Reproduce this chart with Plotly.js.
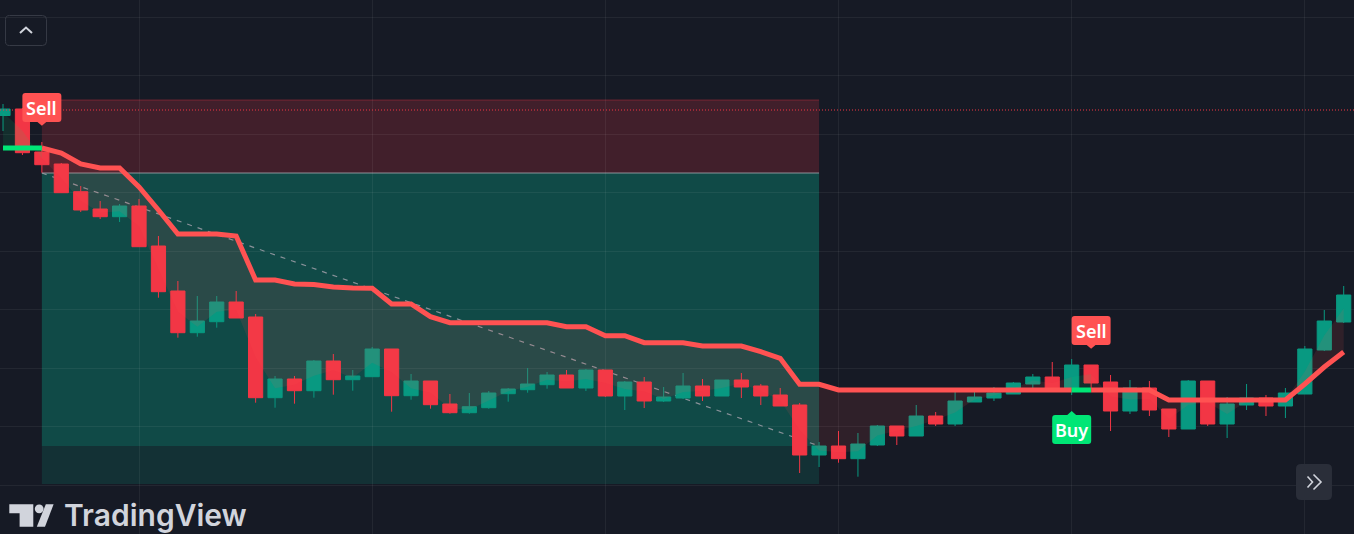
<!DOCTYPE html>
<html><head><meta charset="utf-8">
<script src="https://cdn.plot.ly/plotly-3.0.1.min.js"></script>
<style>html,body{margin:0;padding:0;background:#161a25;overflow:hidden}#chart{width:1354px;height:534px}</style>
</head><body><div id="chart"></div>
<script>
// ---- data (bar index, OHLC) ----
const openP = [48.45,49.1,44.8,43.6,40.83,39.1,38.33,39.4,35.4,30.9,
  26.73,27.83,29.8,28.3,20.23,22.1,20.93,23.9,22.03,22.33,
  25.1,20.43,21.9,19.6,18.73,19.23,20.63,21.03,21.53,22.5,
  21.2,23.0,20.4,21.8,19.9,20.2,21.4,20.4,22.0,21.4,
  20.5,19.5,14.5,15.4,14.13,15.5,17.4,16.4,18.4,17.6,
  19.8,20.2,20.6,21.6,22.3,21.1,23.5,21.8,18.9,21.2,
  19.1,17.1,21.9,17.6,19.5,20.2,19.4,20.6,25.0,27.8];
const highP = [49.6,49.2,45.8,43.7,41.4,39.9,39.6,40.1,36.4,31.9,
  30.4,30.4,30.9,28.6,22.4,22.4,24.0,24.6,23.0,25.3,
  25.1,22.6,21.9,20.6,20.7,20.9,21.2,23.2,22.8,23.0,
  23.1,23.0,21.9,22.3,21.3,22.7,22.1,22.0,22.7,21.6,
  21.2,19.7,15.8,16.9,16.7,17.5,17.4,19.5,18.8,20.9,
  21.0,21.3,21.8,22.6,23.8,24.1,23.5,22.5,22.0,21.9,
  19.1,22.0,21.9,20.3,21.6,20.5,21.2,25.4,29.0,31.4];
const lowP = [46.9,44.5,42.73,40.7,38.8,38.1,37.8,35.3,30.23,26.23,
  26.33,27.23,28.2,19.73,19.23,19.63,20.23,20.53,20.93,22.33,
  18.83,20.03,19.13,18.63,18.63,19.13,19.83,20.73,21.13,21.2,
  20.9,20.3,19.0,19.2,19.8,20.1,19.9,20.4,20.2,19.5,
  19.4,12.7,13.3,13.73,12.33,15.4,15.5,16.4,17.4,17.4,
  19.8,19.9,20.6,21.1,21.1,20.5,21.1,16.9,18.6,18.4,
  16.3,17.1,17.4,16.2,19.0,18.4,18.2,20.6,24.9,27.7];
const closeP = [49.1,44.73,43.53,40.73,39.0,38.33,39.4,35.33,30.83,26.73,
  27.9,29.8,28.2,20.23,22.1,20.93,23.9,22.03,22.4,25.1,
  20.43,21.9,19.53,18.73,19.33,20.7,21.1,21.6,22.5,21.2,
  23.0,20.4,21.8,19.9,20.3,21.4,20.4,22.0,21.3,20.4,
  19.4,14.5,15.4,14.13,15.6,17.4,16.4,18.4,17.6,19.9,
  20.3,20.7,21.7,22.3,21.1,23.5,21.7,18.9,21.2,19.0,
  17.1,21.9,17.6,19.6,20.2,19.4,20.7,25.1,27.9,30.5];
// SuperTrend line value per bar
const trendLine = [45.2,45.2,45.2,44.7,43.6,43.2,43.2,41.3,39.0,36.6,
  36.6,36.6,36.4,32.0,32.0,31.6,31.55,31.3,31.2,31.17,
  29.6,29.6,28.33,27.73,27.73,27.73,27.73,27.73,27.73,27.33,
  27.33,26.43,26.43,25.73,25.73,25.73,25.4,25.4,25.4,24.83,
  24.17,21.57,21.57,21.0,21.0,21.0,21.0,21.0,21.0,21.0,
  21.0,21.0,21.0,21.0,21.0,21.0,21.0,21.0,21.0,21.0,
  20.0,20.0,20.0,20.0,20.0,20.0,20.0,21.6,23.3,24.8];
const upRuns = [[0,2],[55,56]];
const downRuns = [[2,55],[56,69]];
const sellBars = [2,56];
const buyBars = [55];
// short position drawing
const posEntryBar = 2, posExitBar = 42;
const entryPrice = 42.7, stopPrice = 50.0, targetPrice = 11.6, exitPrice = 15.4;
const alertPrice = 49.0;

const barIdx = openP.map((_, i) => i);
const bodyMid = openP.map((o, i) => (o + closeP[i]) / 2);

const W = 1354, H = 534;
const RED = '#f23645', GREEN = '#089981', ST_RED = '#ff5252', ST_GREEN = '#00e676';

const traces = [];
function runFill(run, color) {
  const [a, b] = run;
  const xs = [], ys = [];
  for (let i = a; i <= b; i++) { xs.push(barIdx[i]); ys.push(trendLine[i]); }
  for (let i = b; i >= a; i--) { xs.push(barIdx[i]); ys.push(bodyMid[i]); }
  traces.push({x: xs, y: ys, type: 'scatter', mode: 'lines', fill: 'toself',
    fillcolor: color, line: {width: 0}, hoverinfo: 'skip'});
}
function runLine(run, color) {
  const [a, b] = run;
  traces.push({x: barIdx.slice(a, b + 1), y: trendLine.slice(a, b + 1), type: 'scatter',
    mode: 'lines', line: {color: color, width: 5}, hoverinfo: 'skip'});
}
downRuns.forEach(r => runFill(r, 'rgba(255,82,82,0.11)'));
upRuns.forEach(r => runFill(r, 'rgba(0,230,118,0.10)'));
downRuns.forEach(r => runLine(r, ST_RED));
upRuns.forEach(r => runLine(r, ST_GREEN));

traces.push({type: 'candlestick', x: barIdx, open: openP, high: highP, low: lowP, close: closeP,
  increasing: {line: {color: GREEN, width: 1}, fillcolor: GREEN},
  decreasing: {line: {color: RED, width: 1}, fillcolor: RED},
  whiskerwidth: 0, hoverinfo: 'skip'});

// helpers for paper-pixel decorations
const P = (x, y) => (x / W).toFixed(5) + ',' + (1 - y / H).toFixed(5);
function rrectPaper(x0, y0, x1, y1, r) {
  return `M${P(x0 + r, y0)} L${P(x1 - r, y0)} Q${P(x1, y0)} ${P(x1, y0 + r)} L${P(x1, y1 - r)} Q${P(x1, y1)} ${P(x1 - r, y1)} L${P(x0 + r, y1)} Q${P(x0, y1)} ${P(x0, y1 - r)} L${P(x0, y0 + r)} Q${P(x0, y0)} ${P(x0 + r, y0)} Z`;
}
function rrectPx(x0, y0, x1, y1, r) { // y up
  return `M${x0 + r},${y0} L${x1 - r},${y0} Q${x1},${y0} ${x1},${y0 + r} L${x1},${y1 - r} Q${x1},${y1} ${x1 - r},${y1} L${x0 + r},${y1} Q${x0},${y1} ${x0},${y1 - r} L${x0},${y0 + r} Q${x0},${y0} ${x0 + r},${y0} Z`;
}

const shapes = [
  // stop zone
  {type: 'rect', xref: 'x', yref: 'y', x0: posEntryBar, x1: posExitBar, y0: entryPrice, y1: stopPrice,
    fillcolor: 'rgba(242,54,69,0.2)', line: {width: 0}, layer: 'below'},
  {type: 'line', xref: 'x', yref: 'y', x0: posEntryBar, x1: posExitBar, y0: stopPrice, y1: stopPrice,
    line: {color: 'rgba(242,54,69,0.35)', width: 1}, layer: 'below'},
  // target zone
  {type: 'rect', xref: 'x', yref: 'y', x0: posEntryBar, x1: posExitBar, y0: targetPrice, y1: entryPrice,
    fillcolor: 'rgba(8,153,129,0.18)', line: {width: 0}, layer: 'below'},
  {type: 'rect', xref: 'x', yref: 'y', x0: posEntryBar, x1: posExitBar, y0: exitPrice, y1: entryPrice,
    fillcolor: 'rgba(8,153,129,0.25)', line: {width: 0}, layer: 'below'},
  {type: 'line', xref: 'x', yref: 'y', x0: posEntryBar, x1: posExitBar, y0: entryPrice, y1: entryPrice,
    line: {color: 'rgba(160,163,172,0.85)', width: 1}, layer: 'below'},
  {type: 'line', xref: 'x', yref: 'y', x0: posEntryBar, x1: posExitBar, y0: entryPrice, y1: exitPrice,
    line: {color: 'rgba(150,153,162,0.9)', width: 1.2, dash: '5px,6px'}, layer: 'below'},
  // alert dotted line
  {type: 'line', xref: 'paper', yref: 'y', x0: 0, x1: 1, y0: alertPrice, y1: alertPrice,
    line: {color: RED, width: 1, dash: '1px,2px'}, layer: 'above'},
  // top-left collapse button
  {type: 'path', xref: 'paper', yref: 'paper', path: rrectPaper(5.5, 15.5, 46.5, 45.5, 4),
    line: {color: '#363a45', width: 1}, fillcolor: 'rgba(0,0,0,0)', layer: 'above'},
  {type: 'path', xref: 'paper', yref: 'paper', path: `M${P(20, 33)} L${P(26, 27.5)} L${P(32, 33)}`,
    line: {color: '#d1d4dc', width: 2}, layer: 'above'},
  // bottom-right scroll button
  {type: 'path', xref: 'paper', yref: 'paper', path: rrectPaper(1296, 464, 1332, 500, 5),
    line: {width: 0}, fillcolor: '#2a2e39', layer: 'above'},
  {type: 'path', xref: 'paper', yref: 'paper', path: `M${P(1307.5, 476.5)} L${P(1312.5, 482)} L${P(1307.5, 487.5)}`,
    line: {color: '#d1d4dc', width: 1.6}, layer: 'above'},
  {type: 'path', xref: 'paper', yref: 'paper', path: `M${P(1313.5, 474.5)} L${P(1321, 482)} L${P(1313.5, 489.5)}`,
    line: {color: '#d1d4dc', width: 1.6}, layer: 'above'},
  // TradingView logo mark
  {type: 'path', xref: 'paper', yref: 'paper',
    path: `M${P(9.3, 504.3)} L${P(33.3, 504.3)} L${P(33.3, 526.7)} L${P(19.6, 526.7)} L${P(19.6, 513.3)} L${P(9.3, 513.3)} Z`,
    line: {width: 0}, fillcolor: '#d1d4dc', layer: 'above'},
  {type: 'circle', xref: 'paper', yref: 'paper', x0: 34.8 / W, x1: 43.6 / W, y0: 1 - 513.3 / H, y1: 1 - 504.4 / H,
    line: {width: 0}, fillcolor: '#d1d4dc', layer: 'above'},
  {type: 'path', xref: 'paper', yref: 'paper',
    path: `M${P(45.8, 504.3)} L${P(53.6, 504.3)} L${P(45, 526.7)} L${P(36.8, 526.7)} Z`,
    line: {width: 0}, fillcolor: '#d1d4dc', layer: 'above'}
];

const annotations = [
  {xref: 'paper', yref: 'paper', x: 62 / W, y: 1 - 515 / H, xanchor: 'left', yanchor: 'middle',
    text: 'TradingView', showarrow: false,
    font: {family: 'Inter, Roboto, sans-serif', size: 30, color: '#d1d4dc', weight: 600}}
];

sellBars.forEach(i => {
  shapes.push({type: 'path', xref: 'x', yref: 'y', xsizemode: 'pixel', ysizemode: 'pixel',
    xanchor: barIdx[i], yanchor: highP[i], path: rrectPx(-19.5, 20, 19.5, 49, 3),
    fillcolor: ST_RED, line: {width: 0}, layer: 'above'});
  shapes.push({type: 'path', xref: 'x', yref: 'y', xsizemode: 'pixel', ysizemode: 'pixel',
    xanchor: barIdx[i], yanchor: highP[i], path: 'M-5,20.5 L5,20.5 L0,16.3 Z',
    fillcolor: ST_RED, line: {width: 0}, layer: 'above'});
  annotations.push({x: barIdx[i], y: highP[i], xref: 'x', yref: 'y', yshift: 34.5, showarrow: false,
    xanchor: 'center', yanchor: 'middle', text: 'Sell',
    font: {family: 'Noto Sans, sans-serif', size: 18, color: '#ffffff', weight: 600}});
});
buyBars.forEach(i => {
  shapes.push({type: 'path', xref: 'x', yref: 'y', xsizemode: 'pixel', ysizemode: 'pixel',
    xanchor: barIdx[i], yanchor: lowP[i], path: rrectPx(-19.5, -49, 19.5, -20, 3),
    fillcolor: ST_GREEN, line: {width: 0}, layer: 'above'});
  shapes.push({type: 'path', xref: 'x', yref: 'y', xsizemode: 'pixel', ysizemode: 'pixel',
    xanchor: barIdx[i], yanchor: lowP[i], path: 'M-5,-20.5 L5,-20.5 L0,-16 Z',
    fillcolor: ST_GREEN, line: {width: 0}, layer: 'above'});
  annotations.push({x: barIdx[i], y: lowP[i], xref: 'x', yref: 'y', yshift: -34.5, showarrow: false,
    xanchor: 'center', yanchor: 'middle', text: 'Buy',
    font: {family: 'Noto Sans, sans-serif', size: 18, color: '#ffffff', weight: 600}});
});

const layout = {
  width: W, height: H,
  margin: {l: 0, r: 0, t: 0, b: 0, pad: 0},
  paper_bgcolor: '#161a25', plot_bgcolor: '#161a25',
  showlegend: false, hovermode: false,
  boxgap: 0.27, boxgroupgap: 0,
  xaxis: {range: [-0.155, 69.53], rangeslider: {visible: false}, showticklabels: false,
    showgrid: true, gridcolor: 'rgba(255,255,255,0.06)', gridwidth: 1, tick0: 7, dtick: 12,
    zeroline: false, showline: false, ticks: '', fixedrange: true},
  yaxis: {range: [6.6, 60], showticklabels: false, showgrid: true,
    gridcolor: 'rgba(255,255,255,0.06)', gridwidth: 1, tick0: 11.5, dtick: 5.85,
    zeroline: false, showline: false, ticks: '', fixedrange: true},
  shapes: shapes,
  annotations: annotations
};

Plotly.newPlot('chart', traces, layout, {staticPlot: true, displayModeBar: false});
</script>
</body></html>
